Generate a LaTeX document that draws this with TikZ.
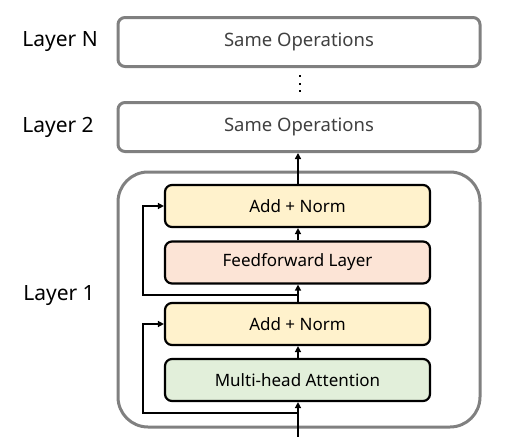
\documentclass[tikz,border=0pt]{standalone}
\usepackage{fontspec}
\usepackage{xcolor}
\setmainfont{Noto Sans}
\usetikzlibrary{arrows.meta}

\definecolor{normfill}{HTML}{FFF2CC}
\definecolor{fffill}{HTML}{FCE4D6}
\definecolor{attfill}{HTML}{E2EFDA}
\definecolor{framegray}{HTML}{808080}
\definecolor{textgray}{HTML}{404040}

\begin{document}
\begin{tikzpicture}[x=1pt,y=-1pt,
    sameop/.style={draw=framegray, line width=3pt, rounded corners=7pt, minimum width=362pt, minimum height=49pt, text=textgray, font=\fontsize{18.5}{20}\selectfont},
    sublayer/.style={draw=black, line width=2.2pt, rounded corners=7pt, minimum width=265pt, minimum height=42pt, font=\fontsize{17}{19}\selectfont},
    layername/.style={font=\fontsize{21}{24}\selectfont},
    flow/.style={line width=1.5pt, -{Triangle[length=6pt,width=6pt]}}]
        \useasboundingbox (0,0) rectangle (515,437);

        % Drawing the upper layers
        \node[sameop] (layerN) at (299,42) {Same Operations};
        \node[sameop] (layertwo) at (299,127) {Same Operations};
        \foreach \y in {76,84,91}
            \fill (298.8,\y-1.3) rectangle (301.2,\y+1.3);

        % Drawing the first layer
        \node[draw=framegray, line width=3pt, rounded corners=30pt, minimum width=362pt, minimum height=255pt] (layerone) at (299,299.5) {};
        \node[sublayer, fill=normfill] (normtop) at (297.5,206) {Add + Norm};
        \node[sublayer, fill=fffill] (ffn) at (297.5,262.5) {Feedforward Layer};
        \node[sublayer, fill=normfill] (normbot) at (297.5,324) {Add + Norm};
        \node[sublayer, fill=attfill] (mha) at (297.5,380) {Multi-head Attention};

        % Layer names
        \node[layername] at (60,42) {Layer N};
        \node[layername] at (58,127) {Layer 2};
        \node[layername] at (59,296) {Layer 1};

        % Main path
        \coordinate (input) at (298,437);
        \coordinate (splitbot) at (298,413);
        \coordinate (splittop) at (298,295);
        \coordinate (skipx) at (143,0);
        \draw[flow] (input) -- (mha.south -| input);
        \draw[flow] (mha.north -| input) -- (normbot.south -| input);
        \draw[flow] (normbot.north -| input) -- (ffn.south -| input);
        \draw[flow] (ffn.north -| input) -- (normtop.south -| input);
        \draw[flow] (normtop.north -| input) -- (layertwo.south -| input);

        % Residual connections
        \draw[flow] (splitbot) -- (splitbot -| skipx) |- (normbot.west);
        \draw[flow] (splittop) -- (splittop -| skipx) |- (normtop.west);
    \end{tikzpicture}
\end{document}
